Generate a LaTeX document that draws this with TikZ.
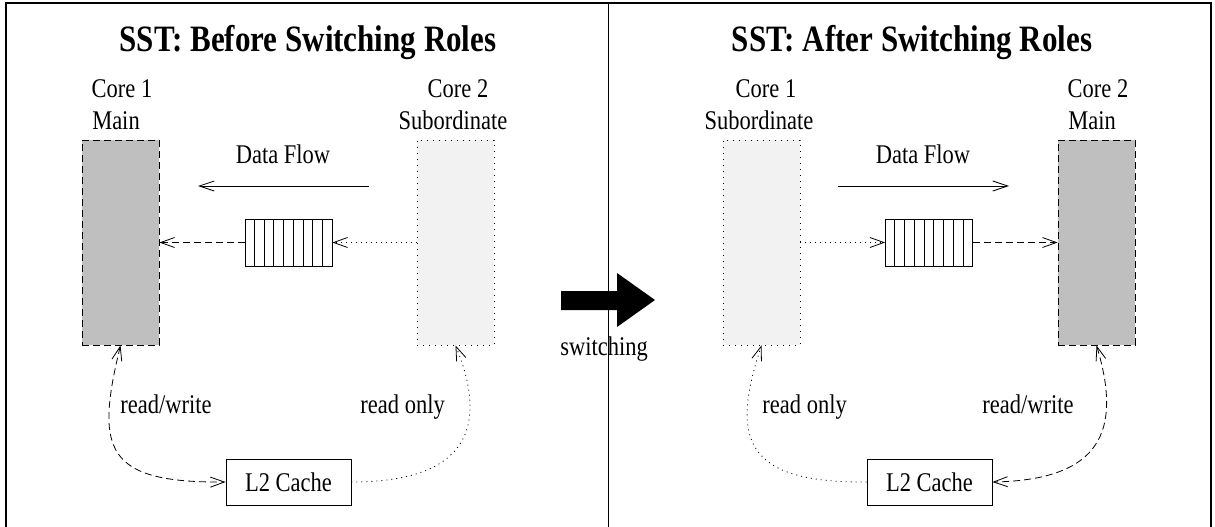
\documentclass[tikz,border=0pt]{standalone}
\usepackage{fontspec}
\usepackage{graphicx}
\setmainfont{Liberation Serif}
\usetikzlibrary{arrows.meta,calc}
% labels are set slightly taller than the face's natural proportions
\newcommand{\tallt}[1]{\scalebox{1}[1.2]{#1}}

\begin{document}
\begin{tikzpicture}[x=1pt,y=-1pt,
  line width=0.8pt,
  txt/.style={font=\fontsize{22.5}{27}\selectfont, inner sep=0pt, anchor=base},
  ttl/.style={font=\fontsize{31}{36}\selectfont\bfseries, inner sep=0pt, anchor=base},
  corebox/.style={draw, minimum width=77pt, minimum height=205pt, inner sep=0pt},
  mainbox/.style={corebox, fill=black!25, dash pattern=on 7pt off 4pt},
  subbox/.style={corebox, fill=black!5, dash pattern=on 1pt off 5pt},
  queuebox/.style={draw, minimum width=87pt, minimum height=47pt, inner sep=0pt},
  cachebox/.style={draw, font=\fontsize{22.5}{27}\selectfont, minimum width=125pt, minimum height=46pt, inner sep=0pt},
  flow/.style={-{Straight Barb[length=15pt,width=10pt]}},
  dashline/.style={dash pattern=on 7pt off 4pt},
  dotline/.style={dash pattern=on 1pt off 4pt},
  >={Straight Barb[length=14pt,width=10pt]}
]
\useasboundingbox (0,0) rectangle (1215,527);

% outer frame
\draw[line width=1.2pt] (6,530) -- (6,3) -- (1211,3) -- (1211,530);

% ---------------- left panel: before switching ----------------
\node[ttl] (ltitle) at (308,51.5) {\tallt{SST: Before Switching Roles}};
\node[txt] (lcore1) at (122,97) {\tallt{Core 1}};
\node[txt] (lrole1) at (116,129.5) {\tallt{Main}};
\node[txt] (lcore2) at (458,97) {\tallt{Core 2}};
\node[txt] (lrole2) at (453,129.5) {\tallt{Subordinate}};

\node[mainbox] (lmain) at (120.5,242.5) {};
\node[subbox] (lsub) at (455.5,242.5) {};

\node[txt] (lflowlbl) at (283,163) {\tallt{Data Flow}};
\coordinate (lflowa) at (369,186);
\coordinate (lflowb) at (198,186);
\draw[flow] (lflowa) -- (lflowb);

\node[queuebox] (lqueue) at (288.5,242.5) {};
\foreach \i in {1,...,8}
  \draw ($(lqueue.north west)!\i/9!(lqueue.north east)$) -- ($(lqueue.south west)!\i/9!(lqueue.south east)$);

\draw[->, dashline] (lqueue.west) -- (lmain.east);
\draw[->, dotline] (lsub.west) -- (lqueue.east);

\node[cachebox] (lcache) at (288.5,482) {\tallt{L2 Cache}};
\draw[<->, dashline] (lmain.south) .. controls (95,450) and (105,483) .. (lcache.west);
\draw[->, dotline] (lcache.east) .. controls (470,482) and (488,425) .. (lsub.south);
\node[txt, anchor=base west] (lrw) at (120,413) {\tallt{read/write}};
\node[txt, anchor=base west] (lro) at (360,413) {\tallt{read only}};

% ---------------- switching arrow and divider ----------------
\fill (561,291) -- (617,291) -- (617,273) -- (655,300) -- (617,327) -- (617,310) -- (561,310) -- cycle;
\node[txt] (swlbl) at (604,355) {\tallt{switching}};
\draw[line width=1pt] (608,3) -- (608,530);

% ---------------- right panel: after switching ----------------
\node[ttl] (rtitle) at (912,51.5) {\tallt{SST: After Switching Roles}};
\node[txt] (rcore1) at (766,97) {\tallt{Core 1}};
\node[txt] (rrole1) at (759,129.5) {\tallt{Subordinate}};
\node[txt] (rcore2) at (1098,97) {\tallt{Core 2}};
\node[txt] (rrole2) at (1092,129.5) {\tallt{Main}};

\node[subbox] (rsub) at (761.5,242.5) {};
\node[mainbox] (rmain) at (1096.5,242.5) {};

\node[txt] (rflowlbl) at (923,163) {\tallt{Data Flow}};
\coordinate (rflowa) at (838,186);
\coordinate (rflowb) at (1009,186);
\draw[flow] (rflowa) -- (rflowb);

\node[queuebox] (rqueue) at (929,242.5) {};
\foreach \i in {1,...,8}
  \draw ($(rqueue.north west)!\i/9!(rqueue.north east)$) -- ($(rqueue.south west)!\i/9!(rqueue.south east)$);

\draw[->, dotline] (rsub.east) -- (rqueue.west);
\draw[->, dashline] (rqueue.east) -- (rmain.west);

\node[cachebox] (rcache) at (929.5,482) {\tallt{L2 Cache}};
\draw[->, dotline] (rcache.west) .. controls (745,483) and (730,440) .. (rsub.south);
\draw[<->, dashline] (rmain.south) .. controls (1122,430) and (1102,480) .. (rcache.east);
\node[txt, anchor=base west] (rro) at (762,413) {\tallt{read only}};
\node[txt, anchor=base west] (rrw) at (982,413) {\tallt{read/write}};
\end{tikzpicture}
\end{document}
